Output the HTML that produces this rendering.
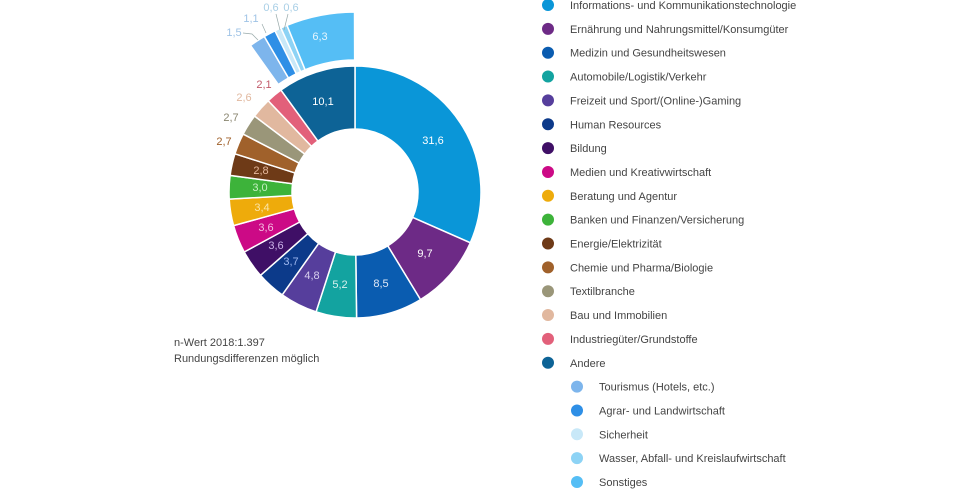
<!DOCTYPE html>
<html><head><meta charset="utf-8"><style>
html,body{margin:0;padding:0;background:#fff;}
body{width:980px;height:490px;overflow:hidden;font-family:"Liberation Sans",sans-serif;}
</style></head><body>
<svg id="s" width="980" height="490" xmlns="http://www.w3.org/2000/svg" font-family="Liberation Sans, sans-serif">
<g id="arcs"></g>
<g font-size="11" text-anchor="middle" dominant-baseline="central">
<text x="433" y="141" fill="#fff">31,6</text>
<text x="425" y="254" fill="#fff">9,7</text>
<text x="381" y="284" fill="#dfe8f6">8,5</text>
<text x="340" y="285" fill="#d8f0ee">5,2</text>
<text x="312" y="276" fill="#d8d0ee">4,8</text>
<text x="291" y="262" fill="#9cb6ee">3,7</text>
<text x="276" y="246" fill="#c9b0e6">3,6</text>
<text x="266" y="228" fill="#f4bde0">3,6</text>
<text x="262" y="208" fill="#fbe4a6">3,4</text>
<text x="260" y="188" fill="#c6efc2">3,0</text>
<text x="261" y="171" fill="#e6b89c">2,8</text>
<text x="224" y="142" fill="#a0612b">2,7</text>
<text x="231" y="118" fill="#8a8670">2,7</text>
<text x="244" y="98" fill="#e1b89f">2,6</text>
<text x="264" y="85" fill="#c25a6a">2,1</text>
<text x="323" y="102" fill="#fff">10,1</text>
<text x="320" y="37" fill="#e6f5fd">6,3</text>
<text x="234" y="33" fill="#9fc3e6">1,5</text>
<text x="251" y="19" fill="#9fc3e6">1,1</text>
<text x="271" y="8" fill="#a9cfe6">0,6</text>
<text x="291" y="8" fill="#a9cfe6">0,6</text>
</g>
<g stroke="#9aa" stroke-width="0.7" fill="none">
<path d="M243 33 L252 34 L258 40"/>
<path d="M262 24 L266 33"/>
<path d="M276 14 L280 30"/>
<path d="M288 14 L284 30"/>
</g>
<g font-size="11" fill="#444">
<text x="174" y="346">n-Wert 2018:1.397</text>
<text x="174" y="362">Rundungsdifferenzen möglich</text>
</g>
<g id="leg" font-size="11" fill="#444"></g>
</svg>
<script>
var cx=355,cy=192;
function pt(r,a){var t=(a-90)*Math.PI/180;return [cx+r*Math.cos(t),cy+r*Math.sin(t)];}
function arc(r0,r1,a0,a1,c){var l=(a1-a0)>180?1:0;var p1=pt(r1,a0),p2=pt(r1,a1),p3=pt(r0,a1),p4=pt(r0,a0);
return '<path d="M'+p1+' A'+r1+' '+r1+' 0 '+l+' 1 '+p2+' L'+p3+' A'+r0+' '+r0+' 0 '+l+' 0 '+p4+'Z" fill="'+c+'" stroke="#fff" stroke-width="1.5"/>';}
var main=[[31.6,'#0a96d8'],[9.7,'#6d2a86'],[8.5,'#0a5cb0'],[5.2,'#13a3a0'],[4.8,'#563e9c'],[3.7,'#0c3a8a'],[3.6,'#3f0f66'],[3.6,'#cc0a86'],[3.4,'#eeab0b'],[3.0,'#3db33a'],[2.8,'#6e3a17'],[2.7,'#a0612b'],[2.7,'#9a9679'],[2.6,'#e1b89f'],[2.1,'#e2607a'],[10.1,'#0d6396']];
var sub=[[1.5,'#7db5ec'],[1.1,'#2e8fe6'],[0.6,'#c8e8f8'],[0.6,'#8dd3f5'],[6.3,'#55bef5']];
var h='',a=0;main.forEach(function(m){var b=a+m[0]*3.6;h+=arc(63,126,a,Math.min(b,360),m[1]);a=b;});
a=324.5;sub.forEach(function(m){var b=a+m[0]*3.5;h+=arc(132,180,a,b,m[1]);a=b;});
document.getElementById('arcs').innerHTML=h;
var L=[['Informations- und Kommunikationstechnologie','#0a96d8'],['Ernährung und Nahrungsmittel/Konsumgüter','#6d2a86'],['Medizin und Gesundheitswesen','#0a5cb0'],['Automobile/Logistik/Verkehr','#13a3a0'],['Freizeit und Sport/(Online-)Gaming','#563e9c'],['Human Resources','#0c3a8a'],['Bildung','#3f0f66'],['Medien und Kreativwirtschaft','#cc0a86'],['Beratung und Agentur','#eeab0b'],['Banken und Finanzen/Versicherung','#3db33a'],['Energie/Elektrizität','#6e3a17'],['Chemie und Pharma/Biologie','#a0612b'],['Textilbranche','#9a9679'],['Bau und Immobilien','#e1b89f'],['Industriegüter/Grundstoffe','#e2607a'],['Andere','#0d6396'],['Tourismus (Hotels, etc.)','#7db5ec',1],['Agrar- und Landwirtschaft','#2e8fe6',1],['Sicherheit','#c8e8f8',1],['Wasser, Abfall- und Kreislaufwirtschaft','#8dd3f5',1],['Sonstiges','#55bef5',1]];
var g='';L.forEach(function(e,i){var y=5+i*23.85;var dx=e[2]?29:0;
g+='<circle cx="'+(548+dx)+'" cy="'+y+'" r="6" fill="'+e[1]+'"/><text x="'+(570+dx)+'" y="'+(y+4)+'">'+e[0]+'</text>';});
document.getElementById('leg').innerHTML=g;
</script>
</body></html>
